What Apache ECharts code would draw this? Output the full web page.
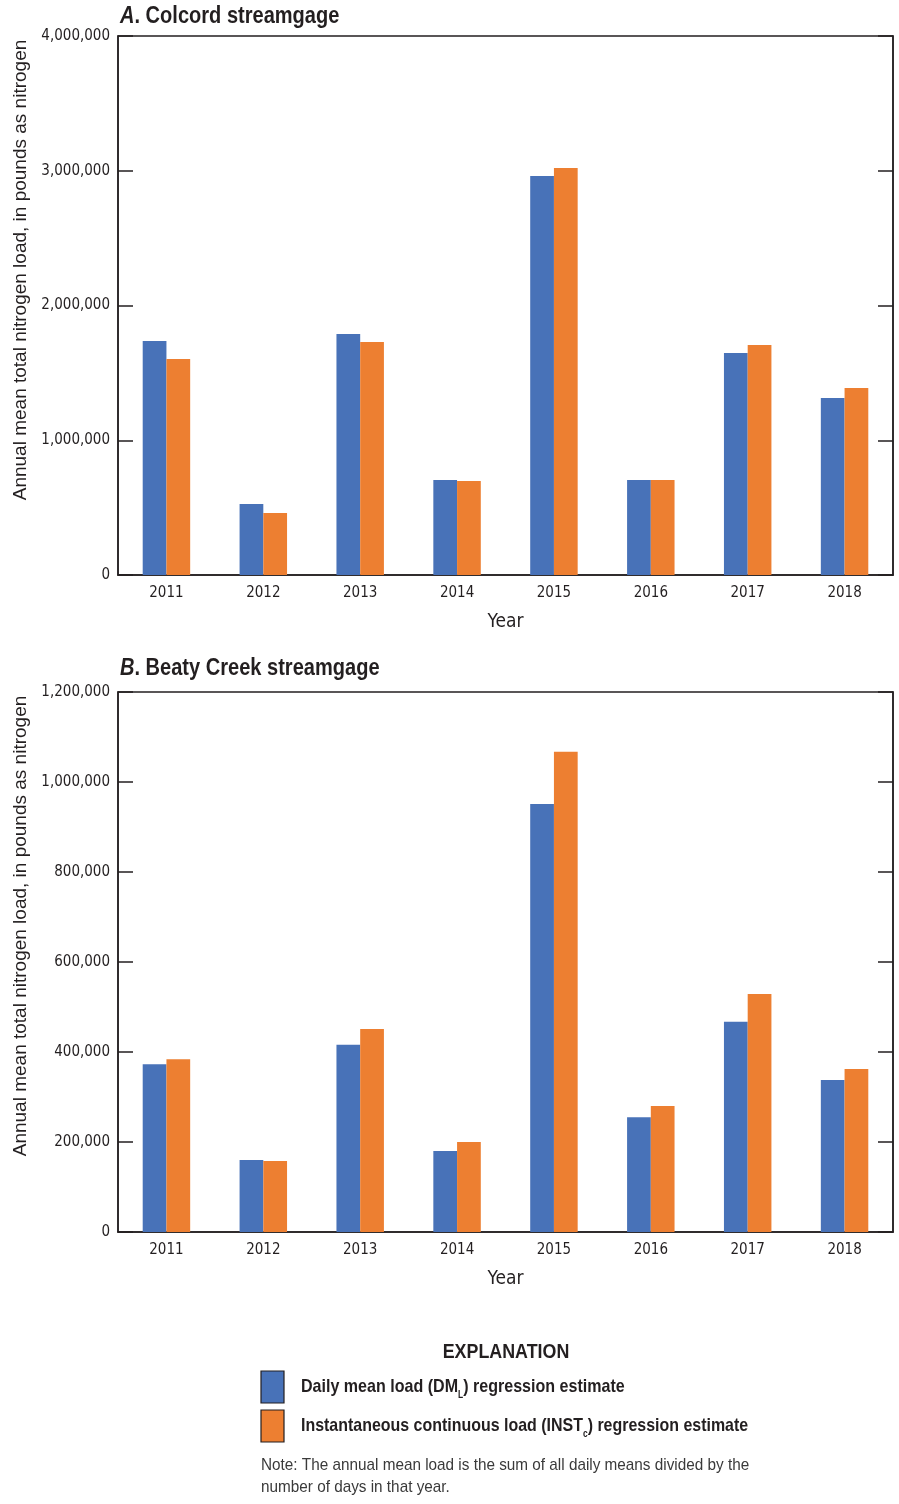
<!DOCTYPE html>
<html>
<head>
<meta charset="utf-8">
<style>
  html, body { margin: 0; padding: 0; background: #fff; }
  #chart { width: 899px; height: 1504px; }
</style>
<script src="https://cdn.jsdelivr.net/npm/echarts@6/dist/echarts.min.js"></script>
</head>
<body>
<div id="chart"></div>
<script>
// Annual mean total nitrogen loads, 2011-2018
const years = ['2011', '2012', '2013', '2014', '2015', '2016', '2017', '2018'];

// A. Colcord streamgage
const colcordDaily = [1737000, 527000, 1789000, 705000, 2961000, 705000, 1647000, 1314000];
const colcordInst  = [1603000, 460000, 1729000, 698000, 3020000, 705000, 1707000, 1388000];

// B. Beaty Creek streamgage
const beatyDaily = [373000, 160000, 416000, 180000, 951000, 255000, 467000, 338000];
const beatyInst  = [384000, 158000, 451000, 200000, 1067000, 280000, 529000, 362000];

const seriesNames = [
  'Daily mean load (DML) regression estimate',
  'Instantaneous continuous load (INSTc) regression estimate'
];

const BLUE = '#4872B8';
const ORANGE = '#ED7F31';
const INK = '#231F20';
const COND = "'DejaVu Sans Condensed', 'Liberation Sans', sans-serif";
const SANS = "'Liberation Sans', Arial, sans-serif";

const fmt = v => v.toLocaleString('en-US');

function valueAxes(gridIndex, max, interval) {
  const common = {
    type: 'value', gridIndex, min: 0, max, interval,
    axisLine: { show: true, lineStyle: { color: INK, width: 1.5 } },
    axisTick: { show: true, inside: true, length: 15, lineStyle: { color: INK, width: 1.5 } },
    splitLine: { show: false }
  };
  return [
    Object.assign({}, common, {
      position: 'left',
      axisLabel: { formatter: fmt, margin: 8, color: INK, fontFamily: COND, fontSize: 15 }
    }),
    Object.assign({}, common, {
      position: 'right',
      axisLabel: { show: false }
    })
  ];
}

function catAxis(gridIndex) {
  return {
    type: 'category', gridIndex, data: years,
    axisLine: { show: true, lineStyle: { color: INK, width: 1.5 } },
    axisTick: { show: false },
    axisLabel: { color: INK, fontFamily: COND, fontSize: 15, margin: 11 },
    name: 'Year', nameLocation: 'middle', nameGap: 38,
    nameTextStyle: { color: INK, fontFamily: COND, fontSize: 19 }
  };
}

function bars(name, data, color, xi, yi) {
  return {
    type: 'bar', name, data, xAxisIndex: xi, yAxisIndex: yi,
    barGap: '0%', barCategoryGap: '51%',
    itemStyle: { color },
    emphasis: { disabled: true }
  };
}

// Text block squeezed horizontally to a condensed look
function squeezed(x, y, sx, style) {
  return { type: 'text', x, y, scaleX: sx, style: Object.assign({ x: 0, y: 0 }, style) };
}

const yA = valueAxes(0, 4000000, 1000000);
const yB = valueAxes(1, 1200000, 200000);

const yTitle = 'Annual mean total nitrogen load, in pounds as nitrogen';

const titleRich = {
  i: { fontFamily: SANS, fontWeight: 'bold', fontStyle: 'italic', fontSize: 24, fill: INK },
  b: { fontFamily: SANS, fontWeight: 'bold', fontSize: 24, fill: INK }
};
const legendRich = {
  b: { fontFamily: SANS, fontWeight: 'bold', fontSize: 19, fill: INK, lineHeight: 20 },
  s: { fontFamily: SANS, fontWeight: 'bold', fontSize: 10, fill: INK, lineHeight: 27, verticalAlign: 'bottom' }
};

const option = {
  animation: false,
  backgroundColor: '#fff',
  grid: [
    { left: 118, right: 6, top: 36, height: 539, show: true, borderColor: INK, borderWidth: 1.5 },
    { left: 118, right: 6, top: 692, height: 540, show: true, borderColor: INK, borderWidth: 1.5 }
  ],
  xAxis: [catAxis(0), catAxis(1)],
  yAxis: [yA[0], yA[1], yB[0], yB[1]],
  series: [
    bars(seriesNames[0], colcordDaily, BLUE, 0, 0),
    bars(seriesNames[1], colcordInst, ORANGE, 0, 0),
    bars(seriesNames[0], beatyDaily, BLUE, 1, 2),
    bars(seriesNames[1], beatyInst, ORANGE, 1, 2)
  ],
  graphic: [
    // panel titles
    squeezed(120, 16, 0.835, { text: '{i|A}{b|. Colcord streamgage}', rich: titleRich, verticalAlign: 'middle' }),
    squeezed(120, 668, 0.835, { text: '{i|B}{b|. Beaty Creek streamgage}', rich: titleRich, verticalAlign: 'middle' }),
    // vertical axis titles
    { type: 'text', x: 21, y: 270, rotation: Math.PI / 2, style: {
      text: yTitle, fontFamily: SANS, fontSize: 19, fill: INK, align: 'center', verticalAlign: 'middle' } },
    { type: 'text', x: 21, y: 926, rotation: Math.PI / 2, style: {
      text: yTitle, fontFamily: SANS, fontSize: 19, fill: INK, align: 'center', verticalAlign: 'middle' } },
    // explanation block
    squeezed(506, 1352, 0.85, {
      text: 'EXPLANATION', fontFamily: SANS, fontWeight: 'bold', fontSize: 21, fill: INK,
      align: 'center', verticalAlign: 'middle' }),
    { type: 'rect', shape: { x: 261, y: 1371, width: 23, height: 32 },
      style: { fill: BLUE, stroke: INK, lineWidth: 1.2 } },
    { type: 'rect', shape: { x: 261, y: 1410, width: 23, height: 32 },
      style: { fill: ORANGE, stroke: INK, lineWidth: 1.2 } },
    squeezed(301, 1387, 0.845, {
      text: '{b|Daily mean load (DM}{s|L}{b|) regression estimate}',
      verticalAlign: 'middle', rich: legendRich }),
    squeezed(301, 1426, 0.84, {
      text: '{b|Instantaneous continuous load (INST}{s|c}{b|) regression estimate}',
      verticalAlign: 'middle', rich: legendRich }),
    squeezed(261, 1465, 0.9, {
      text: 'Note: The annual mean load is the sum of all daily means divided by the',
      fontFamily: SANS, fontSize: 17, fill: '#3a3a3a', verticalAlign: 'middle' }),
    squeezed(261, 1487, 0.9, {
      text: 'number of days in that year.',
      fontFamily: SANS, fontSize: 17, fill: '#3a3a3a', verticalAlign: 'middle' })
  ]
};

const chart = echarts.init(document.getElementById('chart'), null, { renderer: 'canvas' });
chart.setOption(option);
</script>
</body>
</html>
